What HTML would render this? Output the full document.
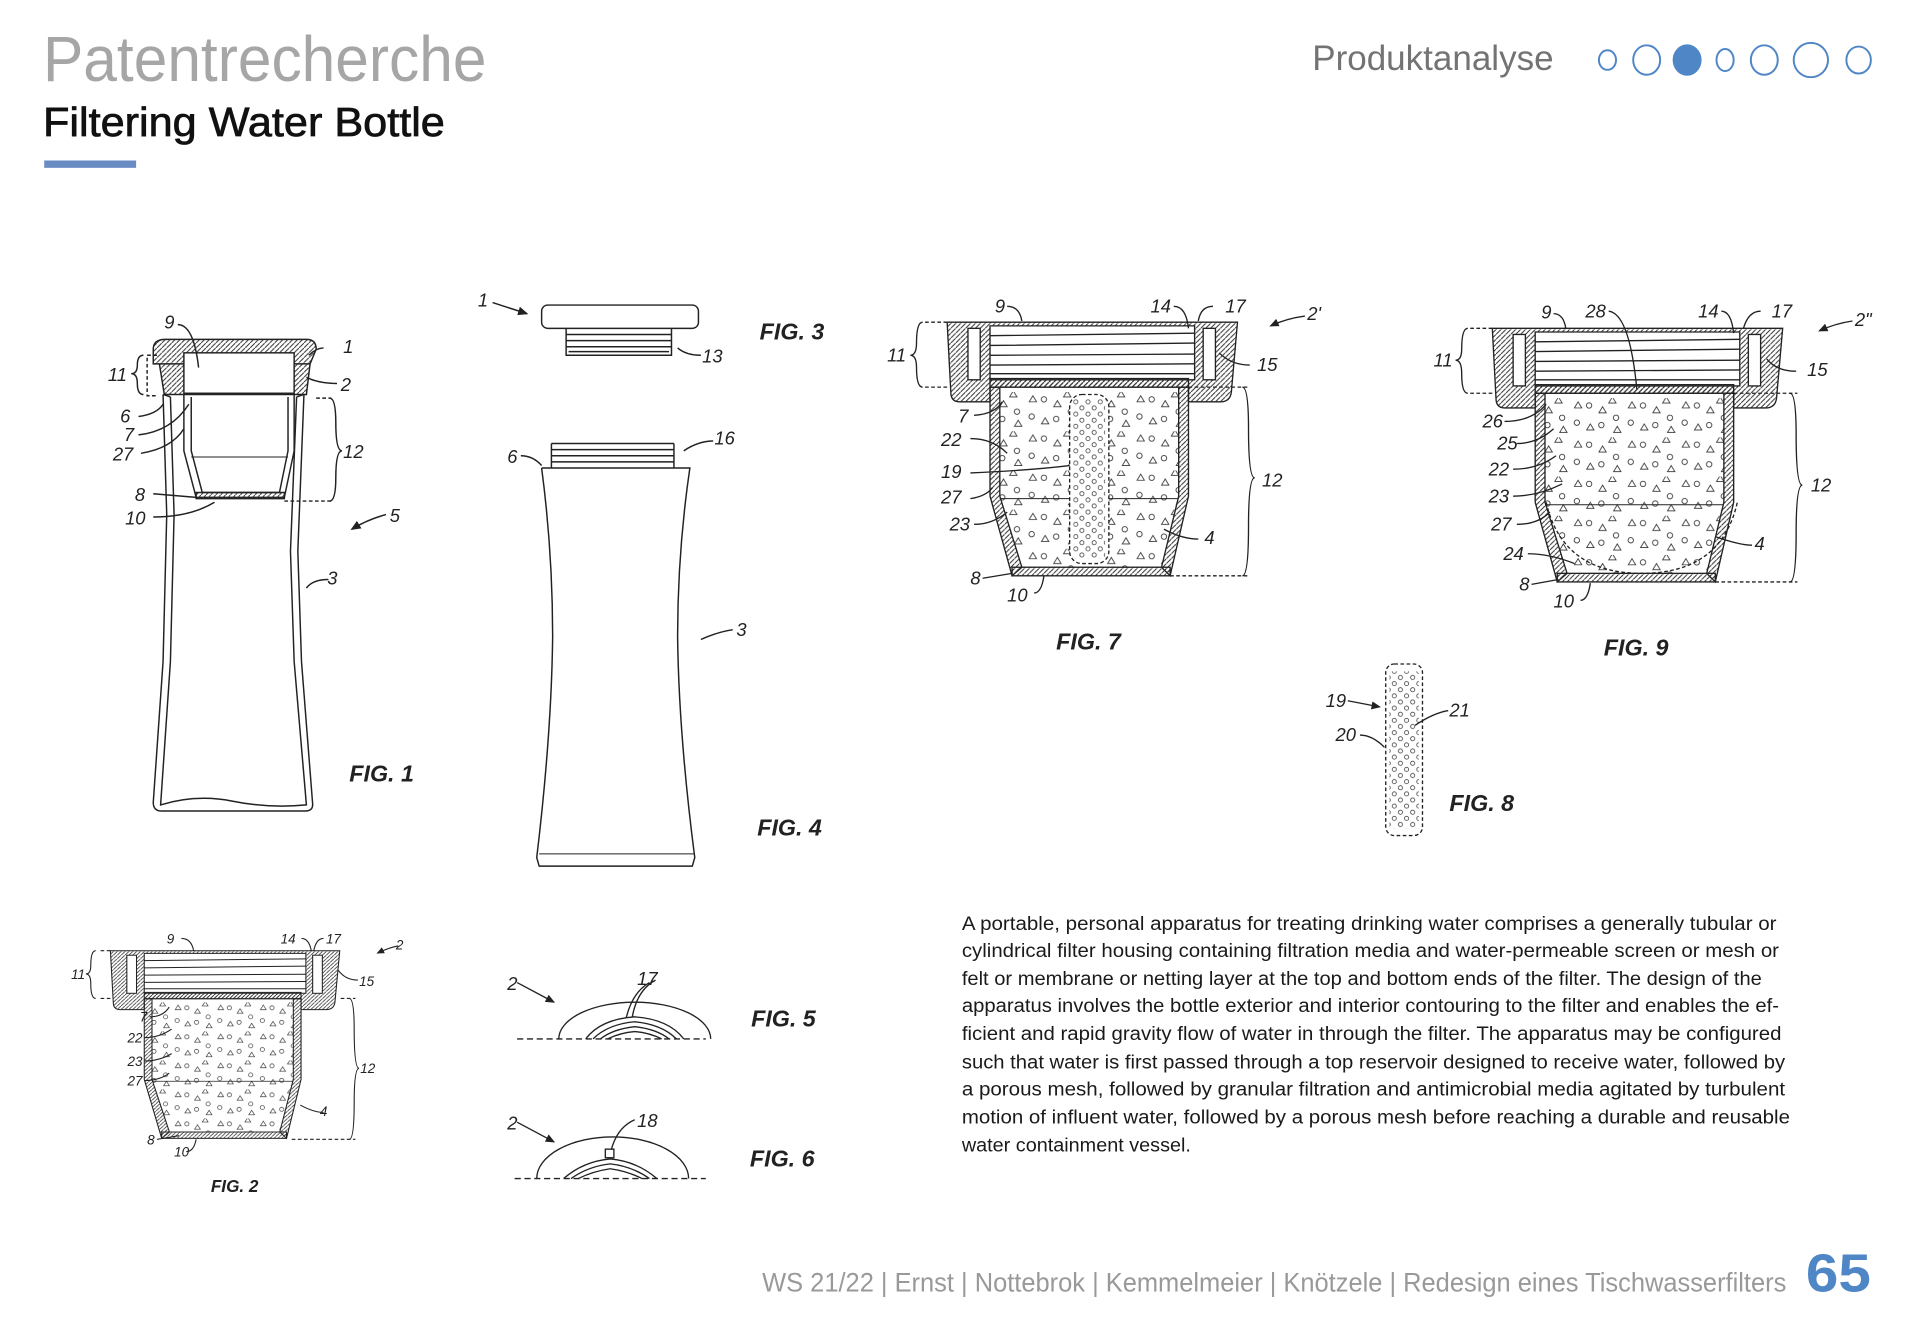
<!DOCTYPE html>
<html><head><meta charset="utf-8"><style>
html,body{margin:0;padding:0;background:#fff;}
body{width:1920px;height:1317px;overflow:hidden;}
svg{display:block}
.l{font-family:"Liberation Sans",sans-serif;font-style:italic;font-size:15px;fill:#222}
.f{font-family:"Liberation Sans",sans-serif;font-style:italic;font-weight:bold;font-size:19px;fill:#222}
.p{font-family:"Liberation Sans",sans-serif;font-size:16px;fill:#1a1a1a}
</style></head><body>
<svg width="1920" height="1317" viewBox="0 0 1567 1075" xmlns="http://www.w3.org/2000/svg">
<defs>
<pattern id="h" patternUnits="userSpaceOnUse" width="4" height="4"><path d="M-1,5 L5,-1" stroke="#333" stroke-width="0.8"/></pattern>
<pattern id="m" patternUnits="userSpaceOnUse" width="44" height="32">
<path d="M4,8 l3,-5 l3,5z M24,12 l3,-5 l3,5z M14,26 l3,-5 l3,5z M36,28 l3,-5 l3,5z M32,4 l3,-5 l3,5z" fill="none" stroke="#333" stroke-width="0.7"/>
<circle cx="16" cy="6" r="2.2" fill="none" stroke="#333" stroke-width="0.7"/>
<circle cx="38" cy="16" r="2.2" fill="none" stroke="#333" stroke-width="0.7"/>
<circle cx="6" cy="20" r="2.2" fill="none" stroke="#333" stroke-width="0.7"/>
<circle cx="26" cy="22" r="2.2" fill="none" stroke="#333" stroke-width="0.7"/>
</pattern>
<pattern id="d" patternUnits="userSpaceOnUse" width="10" height="10">
<circle cx="3" cy="3" r="1.7" fill="none" stroke="#333" stroke-width="0.6"/>
<circle cx="8" cy="8" r="1.7" fill="none" stroke="#333" stroke-width="0.6"/>
</pattern>
<marker id="a" markerWidth="8" markerHeight="8" refX="6" refY="4" orient="auto"><path d="M0,1 L7,4 L0,7z" fill="#222"/></marker>
<g id="cup" stroke="#222" stroke-width="1.1">
 <path d="M773,263 L1010,263 L1005,320 Q1004,328 996,328 L970,328 L970,316 L808,316 L808,328 L783,328 Q776,328 776,320 Z" fill="url(#h)"/>
 <rect x="790" y="268" width="10" height="42" fill="#fff"/>
 <rect x="982" y="268" width="10" height="42" fill="#fff"/>
 <path d="M808,266 L975,266 L975,310 L808,310Z" fill="#fff"/>
 <path d="M808,274 L975,272 M808,282 L975,280 M808,290 L975,289 M808,298 L975,297 M808,305 L975,305" fill="none"/>
 <rect x="808" y="309" width="162" height="7" fill="url(#h)"/>
 <path d="M816,316 L962,316 L962,405 L948,463 L834,463 L816,405Z" fill="url(#m)" stroke="none"/>
 <path d="M808,316 L816,316 L816,405 L834,463 L826,470 L808,405Z" fill="url(#h)"/>
 <path d="M970,316 L962,316 L962,405 L948,463 L955,470 L970,405Z" fill="url(#h)"/>
 <rect x="826" y="463" width="129" height="7" fill="url(#h)"/>
 <line x1="816" y1="407" x2="962" y2="407" stroke-width="0.9"/>
</g>
</defs>
<rect width="1567" height="1075" fill="#fff"/>

<!-- header -->
<text x="35" y="66" font-family="Liberation Sans,sans-serif" font-size="52" fill="#a6a6a6" textLength="362" lengthAdjust="spacingAndGlyphs">Patentrecherche</text>
<text x="35" y="111" font-family="Liberation Sans,sans-serif" font-size="33" fill="#111" stroke="#111" stroke-width="0.6" textLength="328" lengthAdjust="spacingAndGlyphs">Filtering Water Bottle</text>
<rect x="36" y="131" width="75" height="6" fill="#6a8cc5"/>
<text x="1071" y="57" font-family="Liberation Sans,sans-serif" font-size="29" fill="#737373" textLength="197" lengthAdjust="spacingAndGlyphs">Produktanalyse</text>
<g fill="none" stroke="#4f86c6" stroke-width="1.6">
<ellipse cx="1312" cy="49" rx="7" ry="8"/><ellipse cx="1344" cy="49" rx="11" ry="12"/>
<ellipse cx="1377" cy="49" rx="11" ry="12" fill="#4f86c6"/><ellipse cx="1408" cy="49" rx="7" ry="9"/>
<ellipse cx="1440" cy="49" rx="11" ry="12"/><ellipse cx="1478" cy="49" rx="14" ry="14"/><ellipse cx="1517" cy="49" rx="10" ry="11"/>
</g>

<!-- FIG 1 -->
<g stroke="#222" stroke-width="1.2" fill="none">
 <path d="M130,297 L125,297 L125,285 Q125,277 135,277 L250,277 Q258,277 258,285 L253,297 Z" fill="url(#h)"/>
 <path d="M130,297 L134,322 L250,322 L253,297" fill="url(#h)"/>
 <rect x="150" y="288" width="90" height="33" fill="#fff"/>
 <path d="M133,322 L136,420 L133,540 L125,655 Q125,662 132,662 L249,662 Q256,662 255,655 L246,540 L243,450 L248,322"/>
 <path d="M139,324 L142,420 L139,540 L131,657 Q160,648 190,654 Q220,660 250,657 L240,540 L237,450 L242,324"/>
 <path d="M133,322 L139,324 M248,322 L242,324"/>
 <path d="M150,322 L150,368 L160,406 L232,406 L240,368 L240,322"/>
 <path d="M156,324 L156,368 L165,402 L228,402 L235,368 L235,324"/>
 <path d="M156,373 L235,373" stroke-width="0.8"/>
 <rect x="160" y="402" width="72" height="5" fill="url(#h)"/>
 <path d="M128,290 L120,290 L120,323 L128,323" stroke-dasharray="3,2"/>
 <path d="M258,325 L270,325 M232,409 L270,409" stroke-dasharray="3,2"/>
 <path d="M269,325 Q274,325 274,345 Q274,368 279,368 Q274,368 274,390 Q274,409 269,409"/>
 <path d="M117,290 Q112,290 112,298 Q112,305 107,305 Q112,305 112,313 Q112,322 117,322"/>
 <path d="M145,265 Q158,265 162,300 M264,284 Q258,284 252,290 M275,313 Q260,313 250,308 M113,340 Q128,338 133,330 M113,355 Q140,352 154,330 M115,370 Q140,366 150,350 M125,403 L160,406 M125,422 Q155,422 175,410 M268,473 Q255,473 250,480"/>
 <path d="M315,420 Q300,424 287,432" marker-end="url(#a)"/>
</g>
<g class="l"><text x="134" y="268">9</text><text x="280" y="288">1</text><text x="278" y="319">2</text><text x="88" y="311">11</text><text x="98" y="345">6</text><text x="101" y="360">7</text><text x="92" y="376">27</text><text x="280" y="374">12</text><text x="110" y="409">8</text><text x="102" y="428">10</text><text x="318" y="426">5</text><text x="267" y="477">3</text></g>
<text class="f" x="285" y="638">FIG. 1</text>

<!-- FIG 3 -->
<g stroke="#222" stroke-width="1.2" fill="none">
 <rect x="442" y="249" width="128" height="19" rx="5" fill="#fff"/>
 <path d="M462,268 L462,290 L548,290 L548,268 M462,273 L548,273 M462,278 L548,278 M462,283 L548,283 M464,287 L546,287"/>
 <path d="M402,247 L430,256" marker-end="url(#a)"/>
 <path d="M572,290 Q560,290 553,284"/>
</g>
<text class="l" x="390" y="250">1</text><text class="l" x="573" y="296">13</text>
<text class="f" x="620" y="277">FIG. 3</text>

<!-- FIG 4 -->
<g stroke="#222" stroke-width="1.2" fill="none">
 <path d="M450,362 L550,362 M450,367 L550,367 M450,372 L550,372 M450,377 L550,377 M450,362 L450,382 M550,362 L550,382"/>
 <path d="M442,382 L563,382 Q553,450 553,520 Q554,600 567,700 L565,707 L440,707 L438,700 Q450,600 451,520 Q451,450 442,382"/>
 <path d="M440,697 L566,697" stroke-width="0.8"/>
 <path d="M425,372 Q435,372 442,380 M582,360 Q570,360 558,368 M598,514 Q585,516 572,522"/>
</g>
<text class="l" x="414" y="378">6</text><text class="l" x="583" y="363">16</text><text class="l" x="601" y="519">3</text>
<text class="f" x="618" y="682">FIG. 4</text>

<!-- FIG 7 -->
<use href="#cup"/>
<g stroke="#222" stroke-width="1.1" fill="none">
 <rect x="873" y="322" width="32" height="138" rx="10" fill="#fff" stroke-dasharray="3,2"/>
 <rect x="876" y="326" width="26" height="130" fill="url(#d)" stroke="none"/>
 <path d="M773,263 L755,263 M773,316 L755,316 M970,316 L1020,316 M955,470 L1020,470" stroke-dasharray="3,2"/>
 <path d="M753,263 Q748,263 748,280 Q748,290 743,290 Q748,290 748,300 Q748,316 753,316"/>
 <path d="M1014,316 Q1019,316 1019,350 Q1019,390 1024,390 Q1019,390 1019,430 Q1019,470 1014,470"/>
 <path d="M822,250 Q832,250 834,262 M958,250 Q968,250 970,268 M990,250 Q980,250 978,262 M1020,298 Q1005,298 995,288 M795,339 Q812,338 818,328 M792,358 Q810,358 822,370 M792,386 Q840,384 873,380 M792,407 Q805,405 810,398 M795,428 Q810,428 822,418 M802,472 L826,468 M844,484 Q850,484 852,470 M978,440 Q965,440 950,432"/>
 <path d="M1065,258 Q1050,260 1037,266" marker-end="url(#a)"/>
</g>
<g class="l"><text x="812" y="255">9</text><text x="939" y="255">14</text><text x="1000" y="255">17</text><text x="1067" y="261">2'</text><text x="724" y="295">11</text><text x="1026" y="303">15</text><text x="782" y="345">7</text><text x="768" y="364">22</text><text x="768" y="390">19</text><text x="768" y="411">27</text><text x="775" y="433">23</text><text x="1030" y="397">12</text><text x="983" y="444">4</text><text x="792" y="477">8</text><text x="822" y="491">10</text></g>
<text class="f" x="862" y="530">FIG. 7</text>

<!-- FIG 9 -->
<use href="#cup" transform="translate(445,5)"/>
<g stroke="#222" stroke-width="1.1" fill="none">
 <path d="M1262,410 Q1275,468 1340,468 Q1405,468 1418,410" stroke-dasharray="3,2"/>
 <path d="M1218,268 L1200,268 M1218,321 L1200,321 M1415,321 L1467,321 M1400,475 L1467,475" stroke-dasharray="3,2"/>
 <path d="M1198,268 Q1193,268 1193,285 Q1193,294 1188,294 Q1193,294 1193,305 Q1193,321 1198,321"/>
 <path d="M1461,321 Q1466,321 1466,355 Q1466,396 1471,396 Q1466,396 1466,435 Q1466,475 1461,475"/>
 <path d="M1268,256 Q1276,256 1278,268 M1313,254 Q1330,256 1336,318 M1405,254 Q1413,254 1415,272 M1437,254 Q1427,254 1423,268 M1466,303 Q1450,303 1442,293 M1228,344 Q1250,344 1262,330 M1238,362 Q1255,362 1268,350 M1235,383 Q1255,383 1270,372 M1235,405 Q1255,405 1275,395 M1238,428 Q1255,428 1265,418 M1247,452 Q1265,452 1285,460 M1250,477 L1272,473 M1290,490 Q1296,490 1298,476 M1430,445 Q1420,445 1400,438"/>
 <path d="M1512,262 Q1498,264 1485,270" marker-end="url(#a)"/>
</g>
<g class="l"><text x="1258" y="260">9</text><text x="1294" y="259">28</text><text x="1386" y="259">14</text><text x="1446" y="259">17</text><text x="1514" y="266">2"</text><text x="1170" y="299">11</text><text x="1475" y="307">15</text><text x="1210" y="349">26</text><text x="1222" y="367">25</text><text x="1215" y="388">22</text><text x="1215" y="410">23</text><text x="1217" y="433">27</text><text x="1227" y="457">24</text><text x="1478" y="401">12</text><text x="1432" y="449">4</text><text x="1240" y="482">8</text><text x="1268" y="496">10</text></g>
<text class="f" x="1309" y="535">FIG. 9</text>

<!-- FIG 8 -->
<g stroke="#222" stroke-width="1.1" fill="none">
 <rect x="1131" y="542" width="30" height="140" rx="7" stroke-dasharray="3,2"/>
 <rect x="1134" y="548" width="24" height="128" fill="url(#d)" stroke="none"/>
 <path d="M1100,572 L1126,577" marker-end="url(#a)"/>
 <path d="M1110,600 Q1120,600 1130,610 M1182,580 Q1170,582 1155,592"/>
</g>
<g class="l"><text x="1082" y="577">19</text><text x="1090" y="605">20</text><text x="1183" y="585">21</text></g>
<text class="f" x="1183" y="662">FIG. 8</text>

<!-- FIG 2 -->
<use href="#cup" transform="translate(90,776) scale(0.79,0.74) translate(-773,-263)"/>
<g stroke="#222" stroke-width="0.9" fill="none">
 <path d="M90,776 L80,776 M90,815 L80,815 M278,815 L290,815 M238,930 L290,930" stroke-dasharray="3,2"/>
 <path d="M78,776 Q74,776 74,788 Q74,795 70,795 Q74,795 74,803 Q74,815 78,815"/>
 <path d="M285,815 Q289,815 289,840 Q289,872 293,872 Q289,872 289,900 Q289,930 285,930"/>
 <path d="M148,766 Q156,766 158,776 M246,766 Q252,766 254,776 M264,766 Q258,766 256,776 M292,800 Q282,800 276,792 M122,830 Q133,830 138,822 M118,847 Q130,847 140,840 M118,866 Q130,866 140,860 M118,882 Q130,882 138,876 M128,930 L146,927 M152,940 Q158,940 160,930 M264,908 Q256,908 245,902"/>
 <path d="M325,772 Q316,774 308,778" marker-end="url(#a)"/>
</g>
<g class="l" style="font-size:11px"><text x="136" y="770">9</text><text x="229" y="770">14</text><text x="266" y="770">17</text><text x="323" y="775">2</text><text x="58" y="799">11</text><text x="293" y="805">15</text><text x="114" y="834">7</text><text x="104" y="851">22</text><text x="104" y="870">23</text><text x="104" y="886">27</text><text x="294" y="876">12</text><text x="261" y="911">4</text><text x="120" y="934">8</text><text x="142" y="944">10</text></g>
<text class="f" x="172" y="973" style="font-size:14px">FIG. 2</text>

<!-- FIG 5 -->
<g stroke="#222" stroke-width="1.1" fill="none">
 <path d="M422,848 L576,848" stroke-dasharray="5,3"/>
 <path d="M456,848 A62,30 0 0 1 580,848"/>
 <path d="M478,848 Q490,832 518,830 Q546,832 558,848 M484,848 Q496,836 518,834 Q540,836 552,848 M490,848 Q500,840 518,838 Q536,840 546,848 M496,848 Q506,843 518,842 Q530,843 540,848"/>
 <path d="M516,830 Q520,808 535,800 M511,831 Q516,810 530,802"/>
 <path d="M422,802 L452,818" marker-end="url(#a)"/>
</g>
<text class="l" x="414" y="808">2</text><text class="l" x="520" y="804">17</text>
<text class="f" x="613" y="838">FIG. 5</text>

<!-- FIG 6 -->
<g stroke="#222" stroke-width="1.1" fill="none">
 <path d="M420,962 L576,962" stroke-dasharray="5,3"/>
 <path d="M438,962 A62,34 0 0 1 562,962"/>
 <path d="M460,962 Q476,948 498,946 Q520,948 536,962 M466,962 Q480,952 498,950 Q516,952 530,962 M472,962 Q484,956 498,954 Q512,956 524,962"/>
 <rect x="494" y="938" width="7" height="7" fill="#fff"/>
 <path d="M499,938 Q504,920 518,914"/>
 <path d="M422,916 L452,932" marker-end="url(#a)"/>
</g>
<text class="l" x="414" y="922">2</text><text class="l" x="520" y="920">18</text>
<text class="f" x="612" y="952">FIG. 6</text>

<!-- paragraph -->
<g class="p">
<text x="785" y="759" textLength="665" lengthAdjust="spacingAndGlyphs">A portable, personal apparatus for treating drinking water comprises a generally tubular or</text>
<text x="785" y="781" textLength="667" lengthAdjust="spacingAndGlyphs">cylindrical filter housing containing filtration media and water-permeable screen or mesh or</text>
<text x="785" y="804" textLength="653" lengthAdjust="spacingAndGlyphs">felt or membrane or netting layer at the top and bottom ends of the filter. The design of the</text>
<text x="785" y="826" textLength="667" lengthAdjust="spacingAndGlyphs">apparatus involves the bottle exterior and interior contouring to the filter and enables the ef-</text>
<text x="785" y="849" textLength="669" lengthAdjust="spacingAndGlyphs">ficient and rapid gravity flow of water in through the filter. The apparatus may be configured</text>
<text x="785" y="872" textLength="672" lengthAdjust="spacingAndGlyphs">such that water is first passed through a top reservoir designed to receive water, followed by</text>
<text x="785" y="894" textLength="672" lengthAdjust="spacingAndGlyphs">a porous mesh, followed by granular filtration and antimicrobial media agitated by turbulent</text>
<text x="785" y="917" textLength="676" lengthAdjust="spacingAndGlyphs">motion of influent water, followed by a porous mesh before reaching a durable and reusable</text>
<text x="785" y="940" textLength="187" lengthAdjust="spacingAndGlyphs">water containment vessel.</text>
</g>

<!-- footer -->
<text x="622" y="1054" font-family="Liberation Sans,sans-serif" font-size="22" fill="#999" textLength="836" lengthAdjust="spacingAndGlyphs">WS 21/22 | Ernst | Nottebrok  | Kemmelmeier  | Knötzele | Redesign eines Tischwasserfilters</text>
<text x="1474" y="1054" font-family="Liberation Sans,sans-serif" font-size="44" font-weight="bold" fill="#4f86c6" textLength="53" lengthAdjust="spacingAndGlyphs">65</text>
</svg>
</body></html>
